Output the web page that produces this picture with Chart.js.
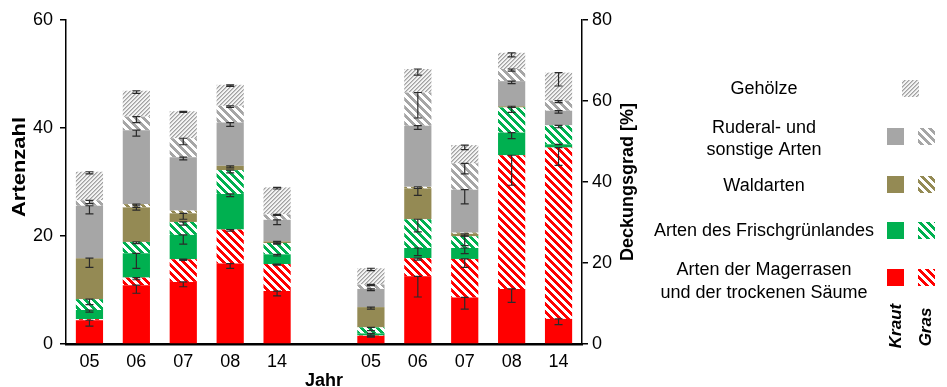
<!DOCTYPE html>
<html>
<head>
<meta charset="utf-8">
<script src="https://cdn.jsdelivr.net/npm/chart.js@4.4.1/dist/chart.umd.min.js"></script>
<style>
  html, body { margin: 0; padding: 0; background: #fff; }
  #wrap { width: 947px; height: 387px; position: relative; }
</style>
</head>
<body>
<div id="wrap"><canvas id="c"></canvas></div>
<script>
const years = ['05', '06', '07', '08', '14'];

// Artenzahl (left axis) – segments from bottom to top
const nMagerKraut  = [4.4, 10.9, 11.5, 14.9, 9.8];
const nMagerGras   = [0.2, 1.4, 4.2, 6.3, 5.0];
const nFrischKraut = [1.7, 4.5, 4.5, 6.6, 1.8];
const nFrischGras  = [2.0, 2.1, 2.4, 4.4, 2.1];
const nWaldKraut   = [7.6, 6.4, 1.6, 0.8, 0.3];
const nWaldGras    = [0, 0.6, 0.5, 0, 0];
const nRudKraut    = [9.7, 13.7, 9.9, 8.0, 4.0];
const nRudGras     = [1.0, 2.5, 3.5, 3.1, 1.0];
const nGehoelze    = [5.3, 4.8, 5.0, 3.9, 5.0];

// Standard errors of Artenzahl
const eMagerKraut  = [1.1, 1.5, 0.9, 0.9, 0.9];
const eMagerGras   = [0, 0.4, 0.2, 0.3, 0.2];
const eFrischKraut = [0.4, 2.8, 1.7, 0.5, 0.3];
const eFrischGras  = [1.0, 0.3, 0.6, 0.5, 0.2];
const eWaldKraut   = [1.7, 0.5, 1.1, 0.4, 0.3];
const eWaldGras    = [0, 0.3, 0, 0, 0];
const eRudKraut    = [1.5, 1.1, 0.5, 0.7, 0.9];
const eRudGras     = [0.6, 1.1, 1.2, 0.3, 0.2];
const eGehoelze    = [0.4, 0.5, 0.2, 0.3, 0.3];

// Deckungsgrad in % (right axis) – segments from bottom to top
const dMagerKraut  = [2.0, 16.7, 11.5, 13.6, 6.2];
const dMagerGras   = [0.1, 4.5, 9.5, 33.0, 42.3];
const dFrischKraut = [0.5, 2.5, 2.7, 5.6, 0.8];
const dFrischGras  = [1.5, 7.1, 2.9, 6.2, 4.7];
const dWaldKraut   = [5.0, 7.6, 0.6, 0.3, 0];
const dWaldGras    = [0, 0.4, 0.3, 0, 0];
const dRudKraut    = [4.5, 15.1, 10.6, 6.2, 3.6];
const dRudGras     = [1.1, 8.2, 6.5, 3.0, 2.5];
const dGehoelze    = [4.0, 5.8, 4.5, 4.0, 6.9];

// Standard errors of Deckungsgrad
const fMagerKraut  = [0.3, 5.1, 2.9, 3.3, 1.4];
const fMagerGras   = [0, 0.5, 2.1, 7.4, 4.4];
const fFrischKraut = [0.4, 1.9, 1.4, 1.5, 0.1];
const fFrischGras  = [0.8, 3.1, 2.3, 1.2, 0.6];
const fWaldKraut   = [0.5, 1.7, 0.5, 0.3, 0];
const fWaldGras    = [0, 0.4, 0, 0, 0];
const fRudKraut    = [0.4, 0.9, 3.5, 0.6, 0.6];
const fRudGras     = [0.3, 6.3, 2.6, 0.5, 0.5];
const fGehoelze    = [0.6, 1.5, 1.1, 1.0, 3.3];

const xLabels = [...years, '', ...years];

const RED = '#ff0000', GREEN = '#00b050', OLIVE = '#948a54', GRAY = '#a6a6a6';
const FONT = '"Liberation Sans", Arial, Helvetica, sans-serif';
const FS = 18;

// diagonal stripe pattern ("\\" direction), coloured stripes on white
function stripes(color, period = 8, width = 4) {
  const c = document.createElement('canvas');
  c.width = period; c.height = period;
  const g = c.getContext('2d');
  g.fillStyle = '#ffffff';
  g.fillRect(0, 0, period, period);
  g.fillStyle = color;
  for (let y = 0; y < period; y++) {
    for (let x = 0; x < period; x++) {
      if ((((x - y) % period) + period) % period < width) g.fillRect(x, y, 1, 1);
    }
  }
  return g.createPattern(c, 'repeat');
}

// fine light-grey hatch ("/" direction) for woody species
function fineHatch() {
  const n = 4;
  const c = document.createElement('canvas');
  c.width = n; c.height = n;
  const g = c.getContext('2d');
  g.fillStyle = '#f4f4f4';
  g.fillRect(0, 0, n, n);
  for (let y = 0; y < n; y++) {
    for (let x = 0; x < n; x++) {
      const k = (x + y) % n;
      if (k === 0) { g.fillStyle = '#a2a2a2'; g.fillRect(x, y, 1, 1); }
      else if (k === 1) { g.fillStyle = '#c6c6c6'; g.fillRect(x, y, 1, 1); }
    }
  }
  return g.createPattern(c, 'repeat');
}

const fills = {
  magerKraut: RED, magerGras: stripes(RED),
  frischKraut: GREEN, frischGras: stripes(GREEN),
  waldKraut: OLIVE, waldGras: stripes(OLIVE),
  rudKraut: GRAY, rudGras: stripes(GRAY),
  gehoelze: fineHatch()
};

const series = [
  ['magerKraut', nMagerKraut, eMagerKraut, dMagerKraut, fMagerKraut],
  ['magerGras', nMagerGras, eMagerGras, dMagerGras, fMagerGras],
  ['frischKraut', nFrischKraut, eFrischKraut, dFrischKraut, fFrischKraut],
  ['frischGras', nFrischGras, eFrischGras, dFrischGras, fFrischGras],
  ['waldKraut', nWaldKraut, eWaldKraut, dWaldKraut, fWaldKraut],
  ['waldGras', nWaldGras, eWaldGras, dWaldGras, fWaldGras],
  ['rudKraut', nRudKraut, eRudKraut, dRudKraut, fRudKraut],
  ['rudGras', nRudGras, eRudGras, dRudGras, fRudGras],
  ['gehoelze', nGehoelze, eGehoelze, dGehoelze, fGehoelze]
];

const blanks = n => new Array(n).fill(null);
const left = arr => [...arr, ...blanks(6)];
const right = arr => [...blanks(6), ...arr];

const datasets = [];
for (const [key, n, e, d, f] of series) {
  datasets.push({ label: key + ' (Artenzahl)', data: left(n), errorBars: left(e),
    backgroundColor: fills[key], yAxisID: 'y', stack: 'arten' });
}
for (const [key, n, e, d, f] of series) {
  datasets.push({ label: key + ' (Deckungsgrad)', data: right(d), errorBars: right(f),
    backgroundColor: fills[key], yAxisID: 'y1', stack: 'deckung' });
}

// error whiskers hanging down from the top of every segment
const errorBarPlugin = {
  id: 'errorBars',
  afterDatasetsDraw(chart) {
    const ctx = chart.ctx;
    ctx.save();
    ctx.strokeStyle = '#2a2a2a';
    ctx.lineWidth = 1.2;
    chart.data.datasets.forEach((ds, di) => {
      const meta = chart.getDatasetMeta(di);
      const scale = chart.scales[meta.yAxisID];
      meta.data.forEach((el, i) => {
        const v = ds.data[i], err = ds.errorBars[i];
        if (v === null || !err) return;
        const px = scale.getPixelForValue(0) - scale.getPixelForValue(err);
        const x = el.x, y0 = el.y, y1 = el.y + px;
        ctx.beginPath();
        ctx.moveTo(x, y0); ctx.lineTo(x, y1);
        ctx.moveTo(x - 4, y0); ctx.lineTo(x + 4, y0);
        ctx.moveTo(x - 4, y1); ctx.lineTo(x + 4, y1);
        ctx.stroke();
      });
    });
    ctx.restore();
  }
};

// axis titles and the legend panel on the right
const annotationPlugin = {
  id: 'annotations',
  afterDraw(chart) {
    const ctx = chart.ctx;
    const area = chart.chartArea;
    ctx.save();
    ctx.fillStyle = '#000';
    ctx.textAlign = 'center';
    ctx.textBaseline = 'middle';

    ctx.font = 'bold ' + FS + 'px ' + FONT;
    ctx.save(); ctx.translate(20, 167); ctx.rotate(-Math.PI / 2); ctx.scale(1.22, 1);
    ctx.fillText('Artenzahl', 0, 0); ctx.restore();
    ctx.save(); ctx.translate(628, 182); ctx.rotate(-Math.PI / 2);
    ctx.fillText('Deckungsgrad [%]', 0, 0); ctx.restore();
    ctx.fillText('Jahr', (area.left + area.right) / 2, 381);

    ctx.font = FS + 'px ' + FONT;
    const tx = 764;
    ctx.fillText('Gehölze', tx, 89);
    ctx.fillText('Ruderal- und', tx, 128);
    ctx.fillText('sonstige Arten', tx, 150);
    ctx.fillText('Waldarten', tx, 186);
    ctx.fillText('Arten des Frischgrünlandes', tx, 231);
    ctx.fillText('Arten der Magerrasen', tx, 270);
    ctx.fillText('und der trockenen Säume', tx, 293);

    const sw = 17, kx = 887, gx = 918;
    ctx.fillStyle = fills.gehoelze; ctx.fillRect(902, 80, sw, sw);
    const rows = [
      [128, 'rudKraut', 'rudGras'],
      [176, 'waldKraut', 'waldGras'],
      [222, 'frischKraut', 'frischGras'],
      [269, 'magerKraut', 'magerGras']
    ];
    for (const [y, a, b] of rows) {
      ctx.fillStyle = fills[a]; ctx.fillRect(kx, y, sw, sw);
      ctx.fillStyle = fills[b]; ctx.fillRect(gx, y, sw, sw);
    }

    ctx.fillStyle = '#000';
    ctx.font = 'italic bold 17px ' + FONT;
    ctx.save(); ctx.translate(896, 326); ctx.rotate(-Math.PI / 2);
    ctx.fillText('Kraut', 0, 0); ctx.restore();
    ctx.save(); ctx.translate(926, 327); ctx.rotate(-Math.PI / 2);
    ctx.fillText('Gras', 0, 0); ctx.restore();
    ctx.restore();
  }
};

const tickFont = { family: FONT, size: FS };

new Chart(document.getElementById('c'), {
  type: 'bar',
  data: { labels: xLabels, datasets },
  options: {
    responsive: true,
    maintainAspectRatio: false,
    animation: false,
    events: [],
    layout: { padding: { top: 20, left: 0, right: 305, bottom: 0 } },
    datasets: { bar: { grouped: false, categoryPercentage: 1, barPercentage: 0.58, borderWidth: 0 } },
    plugins: { legend: { display: false }, tooltip: { enabled: false }, title: { display: false } },
    scales: {
      x: {
        stacked: true,
        grid: { display: false, drawTicks: false },
        border: { display: true, color: '#000', width: 2.5 },
        ticks: { font: tickFont, color: '#000', padding: 7, maxRotation: 0, autoSkip: false },
        afterFit(s) { s.height = 43; }
      },
      y: {
        position: 'left', stacked: true, min: 0, max: 60,
        grid: { drawOnChartArea: false, drawTicks: true, tickLength: 6, color: '#000', lineWidth: 1.5 },
        border: { display: true, color: '#000', width: 1.5 },
        ticks: { stepSize: 20, font: tickFont, color: '#000', padding: 7 },
        afterFit(s) { s.width = 66; }
      },
      y1: {
        position: 'right', stacked: true, min: 0, max: 80,
        grid: { drawOnChartArea: false, drawTicks: true, tickLength: 6, color: '#000', lineWidth: 1.5 },
        border: { display: true, color: '#000', width: 1.5 },
        ticks: { stepSize: 20, font: tickFont, color: '#000', padding: 4 },
        afterFit(s) { s.width = 60; }
      }
    }
  },
  plugins: [errorBarPlugin, annotationPlugin]
});
</script>
</body>
</html>
